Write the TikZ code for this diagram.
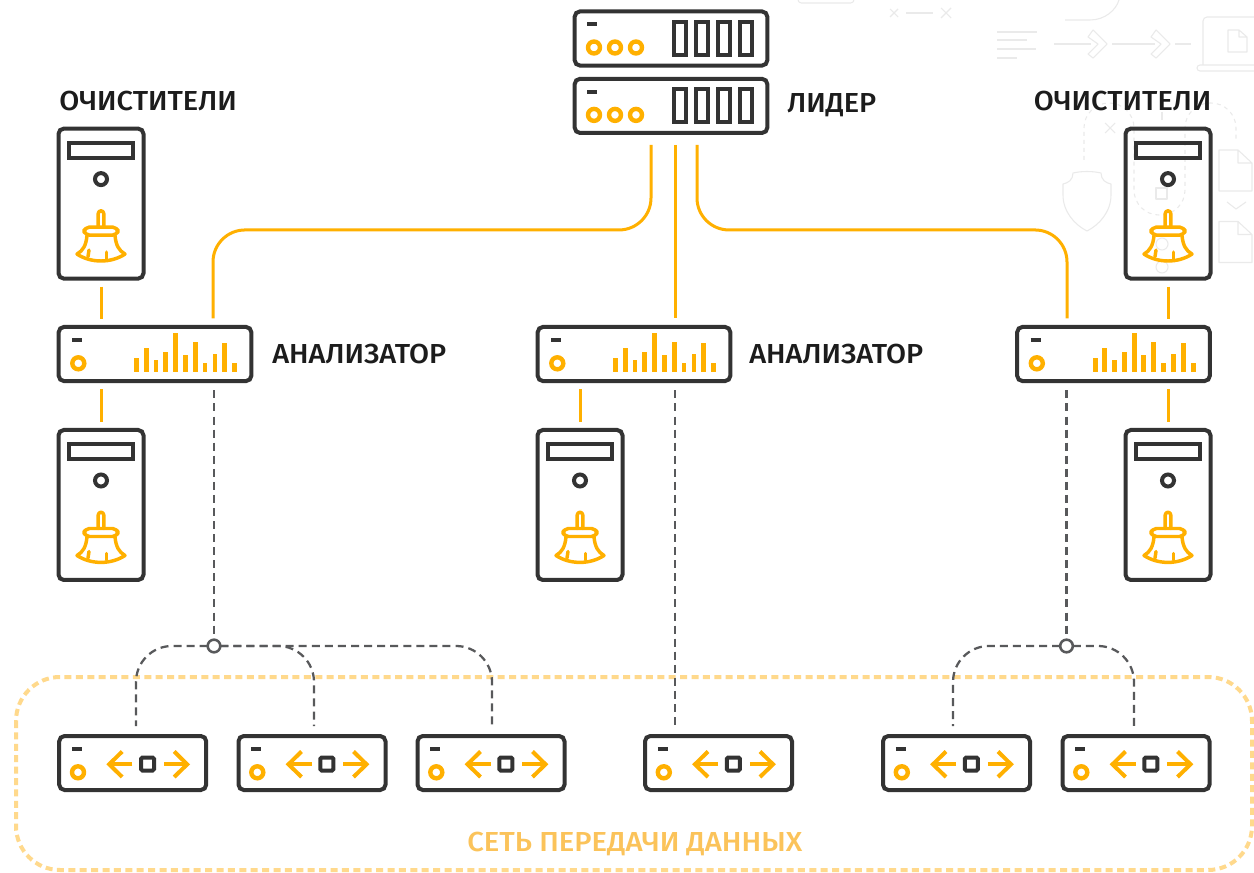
\documentclass[tikz,border=0pt]{standalone}
\usepackage{fontspec}
\setmainfont{Liberation Sans}
\newfontfamily\labelfont[FakeStretch=1.055]{Fira Sans Medium}
\newfontfamily\netfont[FakeStretch=1.065]{Fira Sans Medium}
\usetikzlibrary{calc}
\definecolor{yel}{HTML}{FFB000}
\definecolor{dk}{HTML}{333333}
\definecolor{dashgr}{HTML}{58595B}
\definecolor{lyel}{HTML}{FFD98C}
\definecolor{faint}{HTML}{EAEAEA}
\definecolor{txt}{HTML}{1C1C1C}
\definecolor{nettxt}{HTML}{FBC35A}
\tikzset{
  x=0.75pt,y=-0.75pt,
  device/.style={draw=dk,line width=3pt,rounded corners=4pt,fill=white,inner sep=0pt,outer sep=0pt},
  towerbox/.style={device,minimum width=63.75pt,minimum height=112.5pt},
  widebox/.style={device,minimum width=144.5pt,minimum height=40.6pt},
  swbox/.style={device,minimum width=110.25pt,minimum height=40.5pt},
  dkline/.style={draw=dk,line width=3pt},
  yline/.style={draw=yel,line width=3.3pt},
  ythin/.style={draw=yel,line width=2.6pt,line cap=round,line join=round},
  link/.style={draw=yel,line width=2.25pt},
  curved/.style={rounded corners=24pt},
  dlink/.style={draw=dashgr,line width=1.7pt,dash pattern=on 6pt off 3.8pt},
  dcurved/.style={rounded corners=27pt},
  hub/.style={circle,draw=dashgr,line width=1.9pt,fill=white,minimum size=9.5pt,inner sep=0pt,outer sep=0pt},
  lab/.style={font=\labelfont\fontsize{20.6pt}{21pt}\selectfont,text=txt,inner sep=0pt,anchor=base west},
  fl/.style={draw=faint,line width=0.8pt,line join=round},
  towericon/.pic={
    \draw[dkline] (-32,-60.5) rectangle (32,-45.5);
    \draw[dkline] (0,-24.5) circle (6);
    \draw[ythin] (-2.8,23.5) -- (-2.8,10) arc[start angle=180,end angle=0,radius=2.1pt] -- (2.8,23.5);
    \draw[ythin,rounded corners=4pt] (-17,31.5) -- (-17,23.5) -- (17,23.5) -- (17,31.5) -- cycle;
    \draw[ythin] (-14,32) .. controls (-15,42) and (-18,47) .. (-24,50.5)
       .. controls (-10,59.7) and (10,59.7) .. (24,50.5)
       .. controls (18,47) and (15,42) .. (14,32);
    \draw[ythin] (-12,46.5) -- (-13,53);
    \draw[ythin] (5.7,48.5) -- (5.7,55);
  },
  leadericon/.pic={
    \draw[dk,line width=3pt] (-84,-14) -- (-74,-14);
    \foreach \c in {-77,-56,-35}{\draw[yline] (\c,9) circle (6);}
    \foreach \c in {8.7,31,53,75}{\draw[dkline] (\c-6,-16.5) rectangle (\c+6,16.5);}
  },
  analyzericon/.pic={
    \draw[dk,line width=3pt] (-83,-14) -- (-73,-14);
    \draw[yline] (-76.7,9.3) circle (6);
    \foreach \c/\h in {-18.3/14,-8.7/23.3,1/11.7,10.7/20,20.7/39,30.3/16.7,40.3/29.3,50/8.3,60/17.7,69.7/28.3,79.7/8.3}{
      \fill[yel] (\c-2.4,17.7) rectangle (\c+2.4,17.7-\h);
    }
  },
  switchicon/.pic={
    \draw[dk,line width=3pt] (-60.7,-13.7) -- (-50.7,-13.7);
    \draw[yline] (-54.7,9.3) circle (6);
    \draw[dkline,rounded corners=1pt] (8.3,-5.5) rectangle (21.3,7.5);
    \draw[ythin,line width=3pt,line cap=butt,line join=miter] (-0.4,1.3) -- (-23.5,1.3);
    \draw[ythin,line width=3pt,line cap=butt,line join=miter] (-10.5,-11.5) -- (-23.5,1.3) -- (-10.5,14);
    \draw[ythin,line width=3pt,line cap=butt,line join=miter] (31.3,1.3) -- (54.5,1.3);
    \draw[ythin,line width=3pt,line cap=butt,line join=miter] (41.5,-11.5) -- (54.5,1.3) -- (41.5,14);
  },
}
\begin{document}
\begin{tikzpicture}
\useasboundingbox (0,0) rectangle (1254,873);
\fill[white] (0,0) rectangle (1254,873);
% faint background drawing
\begin{scope}
\clip (0,0) rectangle (1254,873);
\draw[fl,rounded corners=2.5pt] (798,-6) -- (798,3) -- (854,3) -- (854,-6);
\draw[fl] (890,9) -- (898,17) (890,17) -- (898,9);
\draw[fl] (941,8) -- (951,18) (941,18) -- (951,8);
\draw[fl] (906,13) -- (933,13);
\draw[fl] (1065,20) -- (1090,20) .. controls (1105,20) and (1116,10) .. (1119,0);
\draw[fl] (997,32) -- (1037,32) (997,40) -- (1027,40) (997,49) -- (1036,49) (997,58) -- (1017,58);
\draw[fl] (1054,44) -- (1091,44) (1112,44) -- (1155,44) (1175,44) -- (1191,44);
\foreach \d in {0,63}{
  \draw[fl,fill=white,shift={(\d,0)}] (1088,37) -- (1093,30) -- (1107,44) -- (1093,58) -- (1088,54) -- (1098,44) -- cycle;
}
\draw[fl,rounded corners=3pt] (1203,65) -- (1203,17) -- (1260,17);
\draw[fl,rounded corners=2.2pt] (1260,65) -- (1197,65) -- (1197,71) -- (1260,71);
\draw[fl] (1228,30) -- (1239,30) -- (1247,37) -- (1247,52) -- (1228,52) -- cycle (1239,30) -- (1239,37) -- (1247,37);
\draw[fl,dashed,rounded corners=18.75pt] (1084,160) -- (1084,103) -- (1134,103) -- (1134,215) -- (1185,215) -- (1185,103) -- (1236,103) -- (1236,140);
\draw[fl] (1162,112) -- (1162,120);
\draw[fl] (1105,123) -- (1115,133) (1105,133) -- (1115,123);
\draw[fl] (1073,173) .. controls (1073,180) and (1068,183) .. (1063,184) -- (1063,195)
   .. controls (1063,212) and (1075,225) .. (1087,231)
   .. controls (1099,225) and (1111,212) .. (1111,195) -- (1111,184)
   .. controls (1106,183) and (1101,180) .. (1101,173) .. controls (1092,171) and (1082,171) .. (1073,173) -- cycle;
\foreach \d in {0,71.5}{
  \draw[fl,shift={(0,\d)}] (1219,150) -- (1238,150) -- (1252,163) -- (1252,191) -- (1219,191) -- cycle (1238,150) -- (1238,163) -- (1252,163);
}
\draw[fl] (1227,202) -- (1236,209) -- (1246,202);
\end{scope}
% network area
\draw[draw=lyel,line width=3pt,dash pattern=on 5.25pt off 3.3pt,rounded corners=33pt] (16,677) rectangle (1252,870);
% devices
\node[widebox] (lead1) at (671,38.5) {};
\node[widebox] (lead2) at (671,105.9) {};
\node[widebox] (a1) at (155,354) {};
\node[widebox] (a2) at (634,354) {};
\node[widebox] (a3) at (1113.5,354) {};
\node[towerbox] (t1) at (101,203.6) {};
\node[towerbox] (t2) at (101,505) {};
\node[towerbox] (t3) at (580,505) {};
\node[towerbox,fill=none] (t4) at (1168,203.6) {};
\node[towerbox] (t5) at (1168,505) {};
\node[swbox] (s1) at (132.7,763) {};
\node[swbox] (s2) at (312,763) {};
\node[swbox] (s3) at (491,763) {};
\node[swbox] (s4) at (718.5,763) {};
\node[swbox] (s5) at (956.5,763) {};
\node[swbox] (s6) at (1136,763) {};
% faint marks seen through the right tower
\draw[fl] (1156,188) rectangle (1167,199);
\draw[fl] (1162,244) circle (6);
\draw[fl] (1162,267) circle (6);
% icons
\pic at (lead1.center) {leadericon};
\pic at (lead2.center) {leadericon};
\foreach \n in {a1,a2,a3}{\pic at (\n.center) {analyzericon};}
\foreach \n in {t1,t2,t3,t4,t5}{\pic at (\n.center) {towericon};}
\foreach \n in {s1,s2,s3,s4,s5,s6}{\pic at (\n.center) {switchicon};}
% solid links
\draw[link,curved,shorten <=9pt,shorten >=6.5pt] ($(lead2.south)+(-20,0)$) -- +(0,97) -| ($(a1.north)+(58,0)$);
\draw[link,shorten <=9pt,shorten >=6.5pt] ($(lead2.south)+(4,0)$) -- ($(a2.north)+(41,0)$);
\draw[link,curved,shorten <=9pt,shorten >=6.5pt] ($(lead2.south)+(26,0)$) -- +(0,97) -| ($(a3.north)+(-46.5,0)$);
\draw[link,shorten <=6pt,shorten >=6pt] (t1.south) -- (t1.south |- a1.north);
\draw[link,shorten <=6pt,shorten >=6pt] (t1.north |- a1.south) -- (t2.north);
\draw[link,shorten <=6pt,shorten >=6pt] (t3.north |- a2.south) -- (t3.north);
\draw[link,shorten <=6pt,shorten >=6pt] (t4.south) -- (t4.south |- a3.north);
\draw[link,shorten <=6pt,shorten >=6pt] (t5.north |- a3.south) -- (t5.north);
% dashed links
\node[hub] (h1) at (214,646) {};
\node[hub] (h2) at (1066.5,646) {};
\draw[dlink,shorten <=7pt] ($(a1.south)+(59,0)$) -- (h1.north);
\draw[dlink,shorten <=7pt] ($(a3.south)+(-47,0)$) -- (h2.north);
\draw[dlink,shorten <=7pt,shorten >=7.5pt] ($(a2.south)+(41,0)$) -- ($(s4.north)+(-43.5,0)$);
\draw[dlink,dcurved,shorten >=7.5pt] (h1.west) -| ($(s1.north)+(3.3,0)$);
\draw[dlink,dcurved,shorten >=7.5pt] (h1.east) -| ($(s2.north)+(2,0)$);
\draw[dlink,dcurved,shorten >=7.5pt] (h1.east) -| ($(s3.north)+(1,0)$);
\draw[dlink,dcurved,shorten >=7.5pt] (h2.west) -| ($(s5.north)+(-3.5,0)$);
\draw[dlink,dcurved,shorten >=7.5pt] (h2.east) -| ($(s6.north)+(-2,0)$);
% labels
\node[lab] (l1) at (59,110.7) {ОЧИСТИТЕЛИ};
\node[lab] (l2) at (1033.5,110.7) {ОЧИСТИТЕЛИ};
\node[lab] (l3) at (787,112.5) {ЛИДЕР};
\node[lab] (l4) at (272,363.5) {АНАЛИЗАТОР};
\node[lab] (l5) at (749,363.5) {АНАЛИЗАТОР};
\node[lab,font=\netfont\fontsize{20.6pt}{21pt}\selectfont,text=nettxt] (l6) at (467,851) {СЕТЬ ПЕРЕДАЧИ ДАННЫХ};
\end{tikzpicture}
\end{document}
